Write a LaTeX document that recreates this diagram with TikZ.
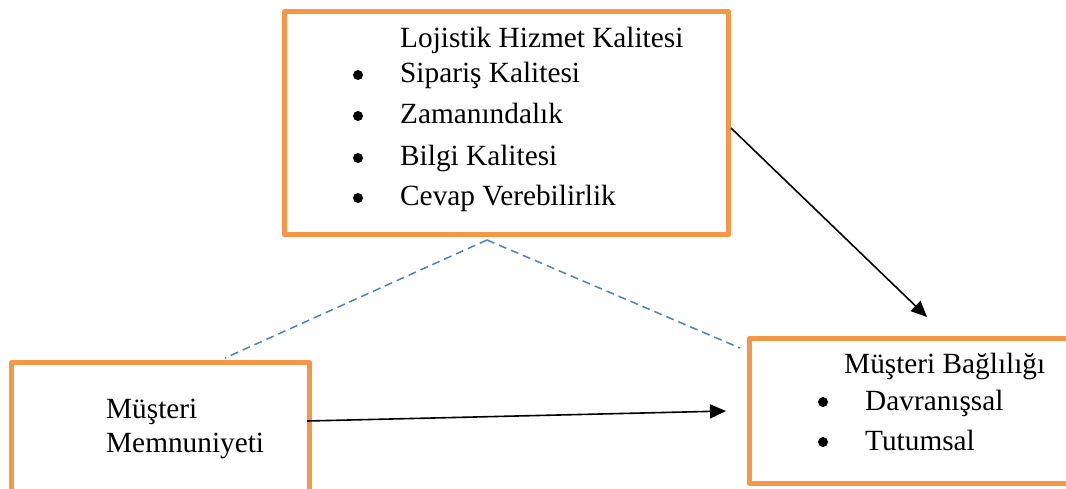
\documentclass[tikz,border=0pt]{standalone}
\usepackage{fontspec}
\setmainfont{Liberation Serif}
\usetikzlibrary{arrows.meta,positioning,calc}
\definecolor{kututuruncu}{HTML}{F79646}
\definecolor{kesikmavi}{HTML}{4F81BD}

\begin{document}
\begin{tikzpicture}[x=1pt,y=-1pt,>={Triangle[length=16pt,width=14pt]},
  kutu/.style={draw=kututuruncu,line width=5pt,line join=round,inner sep=0pt,anchor=north west},
  yazi/.style={anchor=base west,inner sep=0pt,font=\fontsize{29.3}{34}\selectfont},
  madde/.style={circle,fill=black,inner sep=0pt,minimum size=10pt},
  ok/.style={->,line width=1.6pt},
  kesik/.style={kesikmavi,line width=1.5pt,dash pattern=on 8pt off 5pt}]
\useasboundingbox (0,0) rectangle (1066,488);
\clip (0,0) rectangle (1066,488);
% kutular
\node[kutu,minimum width=444pt,minimum height=223pt] (lhk) at (282,9) {};
\node[kutu,minimum width=298pt,minimum height=150pt] (mm) at (9,360) {};
\node[kutu,minimum width=340pt,minimum height=145pt] (mb) at (747,336) {};
% lojistik hizmet kalitesi
\node[yazi] (lhkbaslik) at (400,47) {Lojistik Hizmet Kalitesi};
\foreach \y/\metin [count=\i] in {82/Sipariş Kalitesi,123/Zamanındalık,165/Bilgi Kalitesi,205/Cevap Verebilirlik}{
  \node[madde] (lhkm\i) at (358,\y-7) {};
  \node[yazi] (lhk\i) at (400,\y) {\metin};
}
% musteri memnuniyeti
\node[yazi] (mm1) at (106,418) {Müşteri};
\node[yazi] (mm2) at (106,452) {Memnuniyeti};
% musteri bagliligi
\node[yazi] (mbbaslik) at (844,373) {Müşteri Bağlılığı};
\foreach \y/\metin [count=\i] in {410/Davranışsal,450/Tutumsal}{
  \node[madde] (mbm\i) at (823,\y-8) {};
  \node[yazi] (mb\i) at (865,\y) {\metin};
}
% oklar
\coordinate (ok1uc) at (927,317);
\coordinate (ok2bas) at (307,421);
\coordinate (ok2uc) at (726,411);
\draw[ok] ([yshift=-5pt]lhk.east) -- (ok1uc);
\draw[ok] (ok2bas) -- (ok2uc);
% kesikli cizgiler
\coordinate (tepe) at (487,240);
\coordinate (kesik1) at (225,358);
\coordinate (kesik2) at (740,348);
\draw[kesik] (tepe) -- (kesik1);
\draw[kesik] (tepe) -- (kesik2);
\end{tikzpicture}
\end{document}
